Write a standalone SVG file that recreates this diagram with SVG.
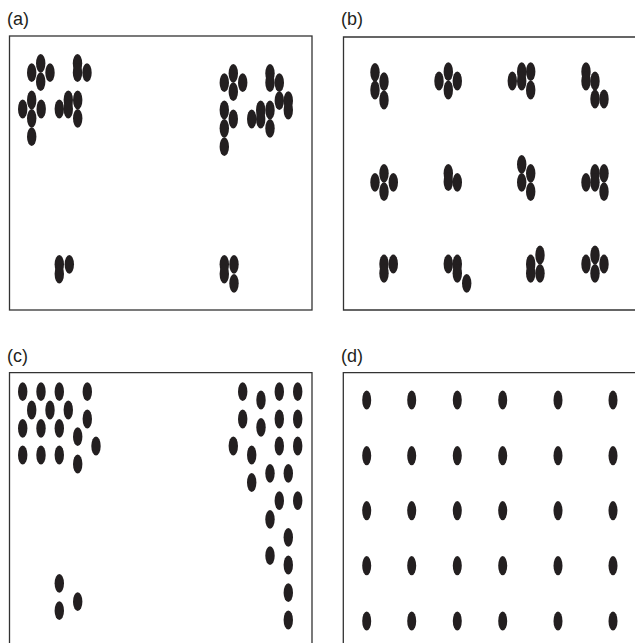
<svg xmlns="http://www.w3.org/2000/svg" width="635" height="643" viewBox="0 0 635 643">
<style>
.f{fill:none;stroke:#333;stroke-width:1.3}
.l{font-family:"Liberation Sans",Arial,sans-serif;font-size:18px;fill:#231f20}
ellipse{fill:#231f20}
</style>
<rect x="0" y="0" width="635" height="643" fill="#fff"/>
<g id="panel-a">
<text class="l" x="7" y="25">(a)</text>
<rect class="f" x="9.5" y="36" width="302.5" height="274"/>
<ellipse cx="40.7" cy="63.3" rx="4.7" ry="9.4"/><ellipse cx="31.7" cy="72.7" rx="4.7" ry="9.4"/><ellipse cx="50" cy="72.7" rx="4.7" ry="9.4"/><ellipse cx="40.7" cy="81.7" rx="4.7" ry="9.4"/>
<ellipse cx="77.5" cy="63.3" rx="4.7" ry="9.4"/><ellipse cx="77.5" cy="72.7" rx="4.7" ry="9.4"/><ellipse cx="87" cy="72.7" rx="4.7" ry="9.4"/>
<ellipse cx="31.7" cy="100" rx="4.7" ry="9.4"/><ellipse cx="22.7" cy="109" rx="4.7" ry="9.4"/><ellipse cx="41.2" cy="109" rx="4.7" ry="9.4"/><ellipse cx="31.7" cy="118.3" rx="4.7" ry="9.4"/><ellipse cx="31.7" cy="136.7" rx="4.7" ry="9.4"/>
<ellipse cx="59.3" cy="109" rx="4.7" ry="9.4"/><ellipse cx="68.3" cy="100" rx="4.7" ry="9.4"/><ellipse cx="68.3" cy="109" rx="4.7" ry="9.4"/><ellipse cx="77.7" cy="100" rx="4.7" ry="9.4"/><ellipse cx="77.7" cy="118.3" rx="4.7" ry="9.4"/>
<ellipse cx="233.3" cy="73.3" rx="4.7" ry="9.4"/><ellipse cx="224.3" cy="82.7" rx="4.7" ry="9.4"/><ellipse cx="242.7" cy="82.7" rx="4.7" ry="9.4"/><ellipse cx="233.3" cy="91.7" rx="4.7" ry="9.4"/>
<ellipse cx="224.3" cy="110" rx="4.7" ry="9.4"/><ellipse cx="233.3" cy="119" rx="4.7" ry="9.4"/><ellipse cx="224.3" cy="128.3" rx="4.7" ry="9.4"/><ellipse cx="224.3" cy="146.7" rx="4.7" ry="9.4"/>
<ellipse cx="270" cy="73.3" rx="4.7" ry="9.4"/><ellipse cx="270" cy="82.7" rx="4.7" ry="9.4"/><ellipse cx="279.3" cy="82.7" rx="4.7" ry="9.4"/><ellipse cx="288.3" cy="100.7" rx="4.7" ry="9.4"/><ellipse cx="288.3" cy="110" rx="4.7" ry="9.4"/><ellipse cx="279.3" cy="100.7" rx="4.7" ry="9.4"/>
<ellipse cx="251.7" cy="119" rx="4.7" ry="9.4"/><ellipse cx="260.7" cy="110" rx="4.7" ry="9.4"/><ellipse cx="260.7" cy="119" rx="4.7" ry="9.4"/><ellipse cx="270" cy="110" rx="4.7" ry="9.4"/><ellipse cx="270" cy="128.3" rx="4.7" ry="9.4"/>
<ellipse cx="59.3" cy="264.3" rx="4.7" ry="9.4"/><ellipse cx="59.3" cy="274" rx="4.7" ry="9.4"/><ellipse cx="69.3" cy="264.3" rx="4.7" ry="9.4"/>
<ellipse cx="224.3" cy="264.3" rx="4.7" ry="9.4"/><ellipse cx="224.3" cy="274" rx="4.7" ry="9.4"/><ellipse cx="234" cy="264.3" rx="4.7" ry="9.4"/><ellipse cx="234" cy="283.3" rx="4.7" ry="9.4"/>
</g>
<g id="panel-b">
<text class="l" x="341" y="25">(b)</text>
<path class="f" d="M640 37H343.5V310H640"/>
<ellipse cx="375" cy="72.3" rx="4.7" ry="9.4"/><ellipse cx="375" cy="90" rx="4.7" ry="9.4"/><ellipse cx="384" cy="81.7" rx="4.7" ry="9.4"/><ellipse cx="384" cy="100" rx="4.7" ry="9.4"/>
<ellipse cx="448.3" cy="71.7" rx="4.7" ry="9.4"/><ellipse cx="439" cy="81" rx="4.7" ry="9.4"/><ellipse cx="457.3" cy="81" rx="4.7" ry="9.4"/><ellipse cx="448.3" cy="90" rx="4.7" ry="9.4"/>
<ellipse cx="512.3" cy="81" rx="4.7" ry="9.4"/><ellipse cx="521.7" cy="71.7" rx="4.7" ry="9.4"/><ellipse cx="521.7" cy="81" rx="4.7" ry="9.4"/><ellipse cx="530.7" cy="71.7" rx="4.7" ry="9.4"/><ellipse cx="530.7" cy="90" rx="4.7" ry="9.4"/>
<ellipse cx="586" cy="71.7" rx="4.7" ry="9.4"/><ellipse cx="586" cy="81" rx="4.7" ry="9.4"/><ellipse cx="595" cy="81" rx="4.7" ry="9.4"/><ellipse cx="595" cy="99" rx="4.7" ry="9.4"/><ellipse cx="604" cy="99" rx="4.7" ry="9.4"/>
<ellipse cx="384" cy="173.3" rx="4.7" ry="9.4"/><ellipse cx="375" cy="182.3" rx="4.7" ry="9.4"/><ellipse cx="393.3" cy="182.3" rx="4.7" ry="9.4"/><ellipse cx="384" cy="191.7" rx="4.7" ry="9.4"/>
<ellipse cx="448.3" cy="173.3" rx="4.7" ry="9.4"/><ellipse cx="448.3" cy="181.7" rx="4.7" ry="9.4"/><ellipse cx="457.3" cy="182.3" rx="4.7" ry="9.4"/>
<ellipse cx="521.7" cy="164.3" rx="4.7" ry="9.4"/><ellipse cx="521.7" cy="182.3" rx="4.7" ry="9.4"/><ellipse cx="530.7" cy="173.3" rx="4.7" ry="9.4"/><ellipse cx="530.7" cy="191.7" rx="4.7" ry="9.4"/>
<ellipse cx="586" cy="182.3" rx="4.7" ry="9.4"/><ellipse cx="595" cy="173.3" rx="4.7" ry="9.4"/><ellipse cx="595" cy="182.3" rx="4.7" ry="9.4"/><ellipse cx="604" cy="173.3" rx="4.7" ry="9.4"/><ellipse cx="604" cy="191.7" rx="4.7" ry="9.4"/>
<ellipse cx="384" cy="264" rx="4.7" ry="9.4"/><ellipse cx="384" cy="273.3" rx="4.7" ry="9.4"/><ellipse cx="393.3" cy="264" rx="4.7" ry="9.4"/>
<ellipse cx="448.3" cy="264" rx="4.7" ry="9.4"/><ellipse cx="457.3" cy="264" rx="4.7" ry="9.4"/><ellipse cx="457.3" cy="273.3" rx="4.7" ry="9.4"/><ellipse cx="466.7" cy="283.3" rx="4.7" ry="9.4"/>
<ellipse cx="530.7" cy="264" rx="4.7" ry="9.4"/><ellipse cx="530.7" cy="273.3" rx="4.7" ry="9.4"/><ellipse cx="540" cy="255" rx="4.7" ry="9.4"/><ellipse cx="540" cy="273.3" rx="4.7" ry="9.4"/>
<ellipse cx="595" cy="255" rx="4.7" ry="9.4"/><ellipse cx="586" cy="264" rx="4.7" ry="9.4"/><ellipse cx="604" cy="264" rx="4.7" ry="9.4"/><ellipse cx="595" cy="273.3" rx="4.7" ry="9.4"/>
</g>
<g id="panel-c">
<text class="l" x="7" y="361.5">(c)</text>
<path class="f" d="M9.5 650V372.7H312V650"/>
<ellipse cx="22.7" cy="391.7" rx="4.7" ry="9.4"/><ellipse cx="41" cy="391.7" rx="4.7" ry="9.4"/><ellipse cx="59.3" cy="391.7" rx="4.7" ry="9.4"/><ellipse cx="87.3" cy="391.7" rx="4.7" ry="9.4"/>
<ellipse cx="31.7" cy="410" rx="4.7" ry="9.4"/><ellipse cx="50" cy="410" rx="4.7" ry="9.4"/><ellipse cx="68.3" cy="410" rx="4.7" ry="9.4"/><ellipse cx="87.3" cy="419" rx="4.7" ry="9.4"/>
<ellipse cx="22.7" cy="428.3" rx="4.7" ry="9.4"/><ellipse cx="41" cy="428.3" rx="4.7" ry="9.4"/><ellipse cx="59.3" cy="428.3" rx="4.7" ry="9.4"/><ellipse cx="77.7" cy="436.7" rx="4.7" ry="9.4"/><ellipse cx="96" cy="446" rx="4.7" ry="9.4"/>
<ellipse cx="22.7" cy="455" rx="4.7" ry="9.4"/><ellipse cx="41" cy="455" rx="4.7" ry="9.4"/><ellipse cx="59.3" cy="455" rx="4.7" ry="9.4"/><ellipse cx="77.7" cy="464" rx="4.7" ry="9.4"/>
<ellipse cx="242.7" cy="391.7" rx="4.7" ry="9.4"/><ellipse cx="261" cy="400" rx="4.7" ry="9.4"/><ellipse cx="279.3" cy="391.7" rx="4.7" ry="9.4"/><ellipse cx="297.7" cy="391.7" rx="4.7" ry="9.4"/>
<ellipse cx="242.7" cy="419" rx="4.7" ry="9.4"/><ellipse cx="261" cy="427.3" rx="4.7" ry="9.4"/><ellipse cx="279.3" cy="419" rx="4.7" ry="9.4"/><ellipse cx="297.7" cy="419" rx="4.7" ry="9.4"/>
<ellipse cx="233.3" cy="446" rx="4.7" ry="9.4"/><ellipse cx="251.7" cy="455" rx="4.7" ry="9.4"/><ellipse cx="279.3" cy="446" rx="4.7" ry="9.4"/><ellipse cx="297.7" cy="446" rx="4.7" ry="9.4"/>
<ellipse cx="270" cy="473.3" rx="4.7" ry="9.4"/><ellipse cx="288.3" cy="473.3" rx="4.7" ry="9.4"/><ellipse cx="251.7" cy="482.5" rx="4.7" ry="9.4"/>
<ellipse cx="279.3" cy="500.7" rx="4.7" ry="9.4"/><ellipse cx="297.7" cy="500.7" rx="4.7" ry="9.4"/><ellipse cx="270" cy="519.3" rx="4.7" ry="9.4"/><ellipse cx="288.3" cy="537.3" rx="4.7" ry="9.4"/>
<ellipse cx="270" cy="555.7" rx="4.7" ry="9.4"/><ellipse cx="288.3" cy="565" rx="4.7" ry="9.4"/><ellipse cx="288.3" cy="592.7" rx="4.7" ry="9.4"/><ellipse cx="288.3" cy="620" rx="4.7" ry="9.4"/>
<ellipse cx="59.3" cy="583.3" rx="4.7" ry="9.4"/><ellipse cx="77.7" cy="601.7" rx="4.7" ry="9.4"/><ellipse cx="59.3" cy="610.7" rx="4.7" ry="9.4"/>
</g>
<g id="panel-d">
<text class="l" x="341" y="361.5">(d)</text>
<path class="f" d="M343.3 650V372.7H640"/>
<ellipse cx="366.7" cy="400" rx="4.5" ry="9.6"/><ellipse cx="411.7" cy="400" rx="4.5" ry="9.6"/><ellipse cx="457.3" cy="400" rx="4.5" ry="9.6"/><ellipse cx="502.7" cy="400" rx="4.5" ry="9.6"/><ellipse cx="558" cy="400" rx="4.5" ry="9.6"/><ellipse cx="613" cy="400" rx="4.5" ry="9.6"/>
<ellipse cx="366.7" cy="455.7" rx="4.5" ry="9.6"/><ellipse cx="411.7" cy="455.7" rx="4.5" ry="9.6"/><ellipse cx="457.3" cy="455.7" rx="4.5" ry="9.6"/><ellipse cx="502.7" cy="455.7" rx="4.5" ry="9.6"/><ellipse cx="558" cy="455.7" rx="4.5" ry="9.6"/><ellipse cx="613" cy="455.7" rx="4.5" ry="9.6"/>
<ellipse cx="366.7" cy="510.7" rx="4.5" ry="9.6"/><ellipse cx="411.7" cy="510.7" rx="4.5" ry="9.6"/><ellipse cx="457.3" cy="510.7" rx="4.5" ry="9.6"/><ellipse cx="502.7" cy="510.7" rx="4.5" ry="9.6"/><ellipse cx="558" cy="510.7" rx="4.5" ry="9.6"/><ellipse cx="613" cy="510.7" rx="4.5" ry="9.6"/>
<ellipse cx="366.7" cy="565.7" rx="4.5" ry="9.6"/><ellipse cx="411.7" cy="565.7" rx="4.5" ry="9.6"/><ellipse cx="457.3" cy="565.7" rx="4.5" ry="9.6"/><ellipse cx="502.7" cy="565.7" rx="4.5" ry="9.6"/><ellipse cx="558" cy="565.7" rx="4.5" ry="9.6"/><ellipse cx="613" cy="565.7" rx="4.5" ry="9.6"/>
<ellipse cx="366.7" cy="621" rx="4.5" ry="9.6"/><ellipse cx="411.7" cy="621" rx="4.5" ry="9.6"/><ellipse cx="457.3" cy="621" rx="4.5" ry="9.6"/><ellipse cx="502.7" cy="621" rx="4.5" ry="9.6"/><ellipse cx="558" cy="621" rx="4.5" ry="9.6"/><ellipse cx="613" cy="621" rx="4.5" ry="9.6"/>
</g>
</svg>
